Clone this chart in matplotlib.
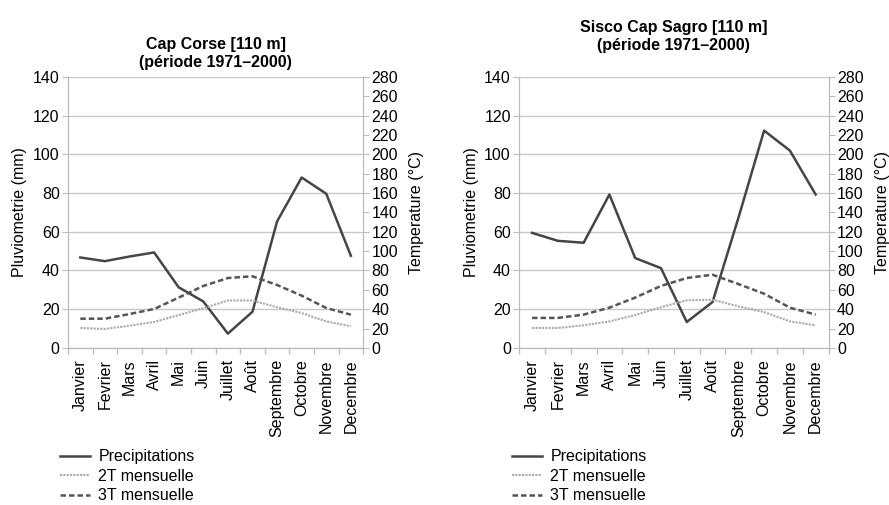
import matplotlib.pyplot as plt
import numpy as np

plt.rcParams['font.family'] = ['Liberation Sans', 'DejaVu Sans']

months = ["Janvier", "Fevrier", "Mars", "Avril", "Mai", "Juin", "Juillet",
          "Août", "Septembre", "Octobre", "Novembre", "Decembre"]

# Cap Corse
corse_precip = [46.7, 44.8, 47.2, 49.3, 31.3, 24.0, 7.4, 18.7, 65.3, 88.0, 79.6, 47.6]
corse_2t = [20.6, 19.6, 23.0, 26.8, 34.0, 41.0, 49.0, 49.0, 42.0, 36.0, 27.4, 22.4]
corse_3t = [30.2, 30.2, 35.0, 40.2, 52.0, 64.0, 72.2, 74.0, 65.0, 54.0, 41.2, 34.4]

# Sisco Cap Sagro
sisco_precip = [59.4, 55.3, 54.3, 79.2, 46.4, 41.2, 13.4, 23.7, 67.0, 112.2, 101.9, 79.2]
sisco_2t = [20.6, 20.6, 23.4, 27.4, 34.0, 42.0, 49.2, 49.8, 43.0, 37.0, 27.4, 23.4]
sisco_3t = [31.0, 31.0, 34.4, 41.6, 52.0, 64.0, 72.2, 75.6, 66.0, 56.0, 41.6, 34.4]

titles = ["Cap Corse [110 m]\n(période 1971–2000)",
          "Sisco Cap Sagro [110 m]\n(période 1971–2000)"]

FS = 11.5
SPINE = "#bbbbbb"


def draw_panel(fig, rect, title, precip, t2, t3, legend_x, title_pad):
    ax = fig.add_axes(rect)
    ax2 = ax.twinx()
    x = np.arange(len(months))

    l1, = ax.plot(x, precip, color="#454545", lw=1.8, label="Precipitations")
    l2, = ax2.plot(x, t2, color="#a8a8a8", lw=1.5, ls=(0, (1, 0.6)), label="2T mensuelle")
    l3, = ax2.plot(x, t3, color="#555555", lw=1.8, ls=(0, (2.2, 1.2)), label="3T mensuelle")

    ax.set_xlim(-0.5, 11.5)
    ax.set_ylim(0, 140)
    ax.set_yticks(range(0, 141, 20))
    ax2.set_ylim(0, 280)
    ax2.set_yticks(range(0, 281, 20))
    ax.grid(axis="y", color="#c8c8c8", lw=1)
    ax.set_axisbelow(True)

    ax.set_xticks(x)
    ax.set_xticklabels(months, rotation=90, fontsize=FS)
    ax.set_xticks(np.arange(-0.5, 12, 1), minor=True)
    ax.tick_params(axis="x", which="major", length=0, pad=8)
    ax.tick_params(axis="x", which="minor", length=4, color=SPINE, width=1)
    ax.tick_params(axis="y", labelsize=FS, length=4, color=SPINE, pad=2)
    ax2.tick_params(axis="y", labelsize=FS, length=4, color=SPINE, pad=2)

    for a in (ax, ax2):
        a.spines["top"].set_visible(False)
        for s in ("left", "right", "bottom"):
            a.spines[s].set_color(SPINE)

    ax.set_ylabel("Pluviometrie (mm)", fontsize=FS, labelpad=4)
    ax2.set_ylabel("Temperature (°C)", fontsize=FS, labelpad=8)
    ax.set_title(title, fontsize=11.5, fontweight="bold", pad=title_pad,
                 linespacing=1.25)

    fig.legend(handles=[l1, l2, l3], loc="upper left",
               bbox_to_anchor=(legend_x, 0.11), frameon=False, fontsize=FS,
               handlelength=1.9, handletextpad=0.5, labelspacing=0.28,
               borderaxespad=0, borderpad=0)


fig = plt.figure(figsize=(8.89, 5.05), dpi=100)
draw_panel(fig, [0.0765, 0.311, 0.332, 0.537], titles[0],
           corse_precip, corse_2t, corse_3t, 0.0675, 7)
draw_panel(fig, [0.584, 0.311, 0.348, 0.537], titles[1],
           sisco_precip, sisco_2t, sisco_3t, 0.576, 19)

fig.savefig("out.png", dpi=100)
